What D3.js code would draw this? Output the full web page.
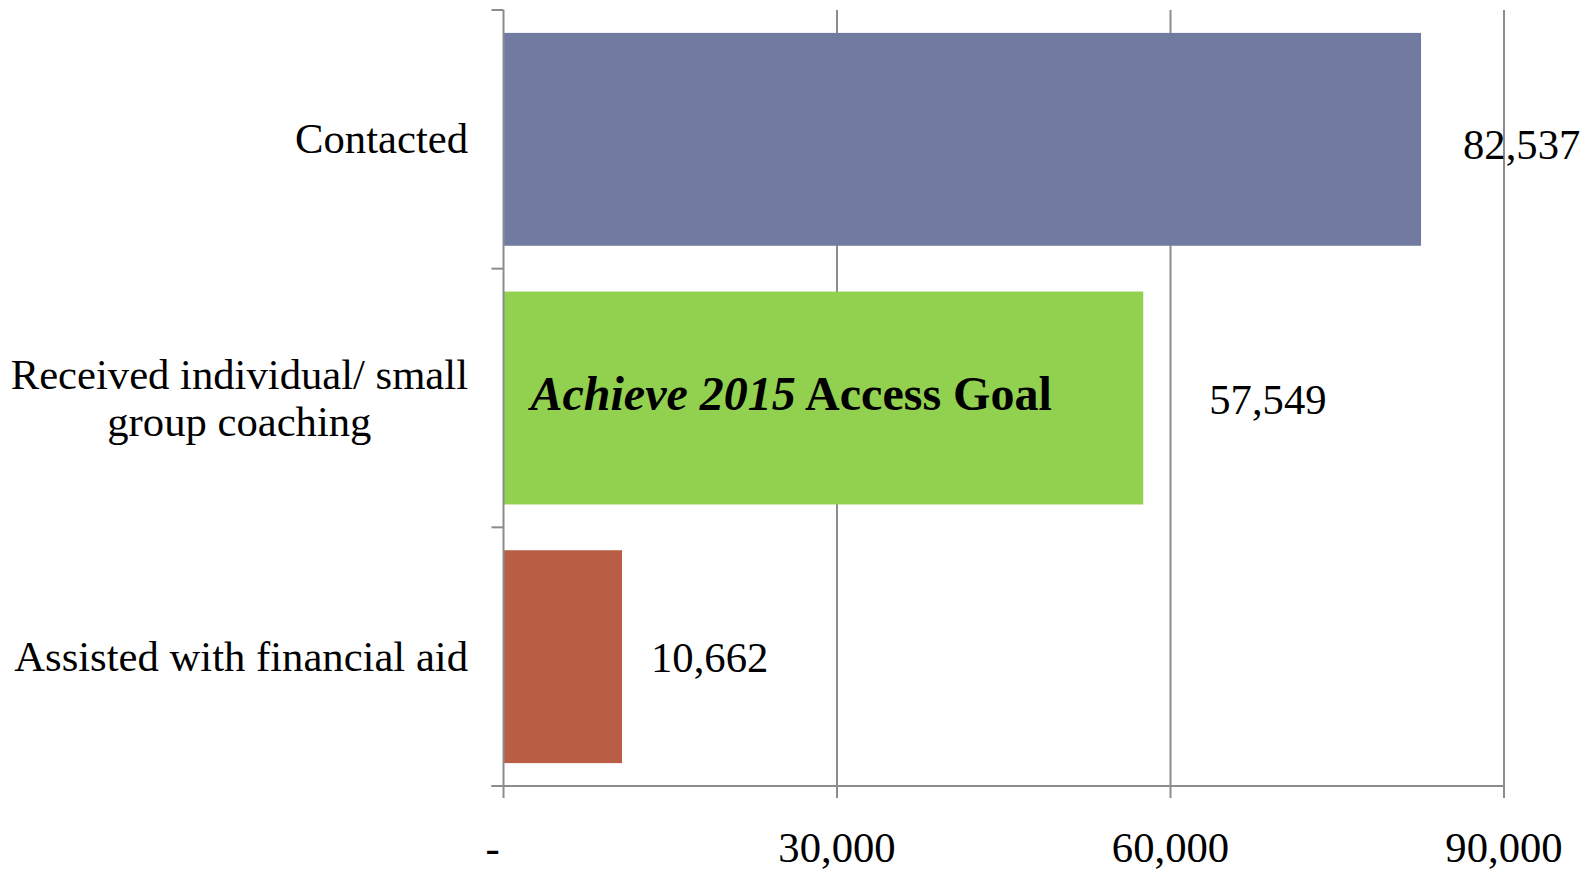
<!DOCTYPE html>
<html>
<head>
<meta charset="utf-8">
<script src="https://cdn.jsdelivr.net/npm/d3@7"></script>
<style>
  body { margin: 0; background: #fff; }
  svg text { font-family: "Liberation Serif", "Times New Roman", serif; fill: #000; }
</style>
</head>
<body>
<div id="chart"></div>
<script>
// chart data
var categories = ["Contacted", "Received individual/ small group coaching", "Assisted with financial aid"];
var counts = [82537, 57549, 10662];
var barColors = ["#717ba1", "#92d050", "#b95e45"];
var xTicks = [0, 30000, 60000, 90000];
var noteItalic = "Achieve 2015";
var noteBold = " Access Goal";

// hand-placed label nudges (Excel placed these by hand)
var labelDx = [42, 66, 29];
var labelDy = [20, 16, 15];

var W = 1594, H = 870;
var axisColor = "#8c8c8c";
var fontSize = 42.67;

var svg = d3.select("#chart").append("svg")
    .attr("width", W)
    .attr("height", H);

var x = d3.scaleLinear().domain([0, 90000]).range([503.5, 1504]);
var y = d3.scaleBand().domain(categories).range([10, 786])
    .paddingInner(0.177).paddingOuter(0.0885);

//gridlines (behind bars)
svg.append("g").selectAll("line")
    .data(xTicks.slice(1))
    .enter().append("line")
    .attr("x1", d => x(d)).attr("x2", d => x(d))
    .attr("y1", 10).attr("y2", 798)
    .attr("stroke", axisColor).attr("stroke-width", 2);

//bars
svg.append("g").selectAll("rect")
    .data(counts)
    .enter().append("rect")
    .attr("x", x(0))
    .attr("y", (d, i) => y(categories[i]))
    .attr("width", d => x(d) - x(0))
    .attr("height", y.bandwidth())
    .attr("fill", (d, i) => barColors[i]);

//vertical axis + category ticks
var step = y.step();
svg.append("line")
    .attr("x1", x(0)).attr("x2", x(0))
    .attr("y1", 10).attr("y2", 798)
    .attr("stroke", axisColor).attr("stroke-width", 2);
svg.append("g").selectAll("line")
    .data(d3.range(categories.length + 1))
    .enter().append("line")
    .attr("x1", x(0) - 12).attr("x2", x(0))
    .attr("y1", i => 10 + i * step).attr("y2", i => 10 + i * step)
    .attr("stroke", axisColor).attr("stroke-width", 2);

//horizontal axis
svg.append("line")
    .attr("x1", x(0) - 12).attr("x2", x(90000))
    .attr("y1", 786).attr("y2", 786)
    .attr("stroke", axisColor).attr("stroke-width", 2);

//tick labels
svg.append("g").selectAll("text")
    .data(xTicks)
    .enter().append("text")
    .attr("x", d => x(d) + (d === 0 ? -11 : 0))
    .attr("y", 862)
    .attr("text-anchor", "middle")
    .attr("font-size", fontSize)
    .text(d => d === 0 ? "-" : d3.format(",")(d));

//category labels, wrapped and centred inside a right-aligned block
var labelRight = 468;
var lineH = 47;
categories.forEach(function(cat, i) {
    var words = cat.split(" ");
    var lines = [];
    var cur = [];
    var probe = svg.append("text").attr("font-size", fontSize);
    words.forEach(function(w) {
        var test = cur.concat([w]).join(" ");
        probe.text(test);
        if (probe.node().getComputedTextLength() > 460 && cur.length) {
            lines.push(cur.join(" "));
            cur = [w];
        } else {
            cur.push(w);
        }
    });
    lines.push(cur.join(" "));
    var widths = lines.map(function(l) {
        probe.text(l);
        return probe.node().getComputedTextLength();
    });
    probe.remove();
    var maxW = d3.max(widths);
    var cy = y(cat) + y.bandwidth() / 2 + 14;
    var first = cy - (lines.length - 1) * lineH / 2;
    var t = svg.append("text")
        .attr("font-size", fontSize)
        .attr("text-anchor", "middle");
    lines.forEach(function(l, k) {
        t.append("tspan")
            .attr("x", labelRight - maxW / 2)
            .attr("y", first + k * lineH)
            .text(l);
    });
});

//value labels
svg.append("g").selectAll("text")
    .data(counts)
    .enter().append("text")
    .attr("x", (d, i) => x(d) + labelDx[i])
    .attr("y", (d, i) => y(categories[i]) + y.bandwidth() / 2 + labelDy[i])
    .attr("font-size", fontSize)
    .text(d => d3.format(",")(d));

//note inside the green bar
var note = svg.append("text")
    .attr("x", x(0) + 27)
    .attr("y", y(categories[1]) + y.bandwidth() / 2 + 12)
    .attr("font-size", 48)
    .attr("font-weight", "bold");
note.append("tspan").attr("font-style", "italic").text(noteItalic);
note.append("tspan").text(noteBold);
</script>
</body>
</html>
